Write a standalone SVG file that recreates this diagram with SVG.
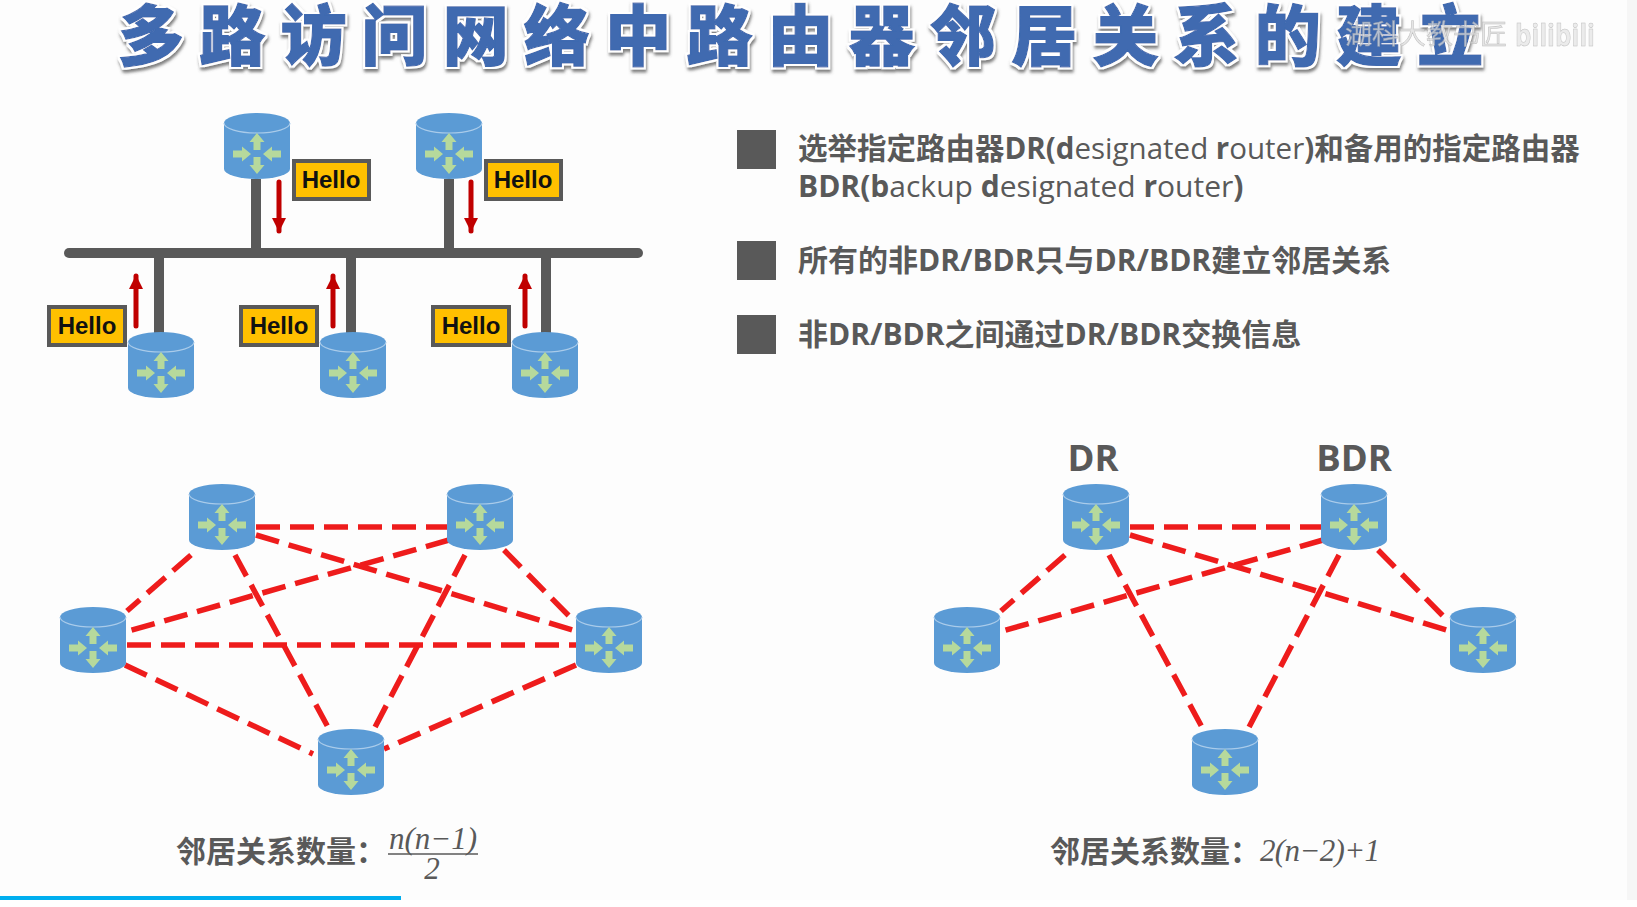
<svg xmlns="http://www.w3.org/2000/svg" width="1637" height="907" viewBox="0 0 1637 907">
<style>
.sans{font-family:"Open Sans","Noto Sans CJK SC",sans-serif;fill:#595959}
.title{font-family:"Noto Sans CJK SC",sans-serif;font-weight:900;font-size:66px;letter-spacing:15.2px;fill:#3f6ab0;stroke:#3f6ab0;stroke-width:1.2px}
.item{font-size:30px;font-weight:700}
.item .r{font-weight:400}
.hello-box{fill:#ffc000;stroke:#595959;stroke-width:4}
.hello{font-family:"Liberation Sans",sans-serif;font-size:24px;font-weight:700;fill:#111;text-anchor:middle}
.bus{stroke:#595959;stroke-width:10;fill:none}
.flow{stroke:#c00000;stroke-width:5;stroke-linecap:round;fill:none}
.link{stroke:#ee1c1c;stroke-width:5.5;stroke-dasharray:24 10;fill:none}
.math{font-family:"Liberation Serif",serif;font-style:italic;font-size:31px;fill:#595959}
.count{font-size:30px;font-weight:700}
.role{font-size:36.5px;font-weight:700;text-anchor:middle}
.bullet{fill:#595959}
</style>
<defs>
<marker id="head" markerUnits="userSpaceOnUse" markerWidth="15" markerHeight="14" refX="13" refY="7" orient="auto">
<path d="M0 0L14 7L0 14Z" fill="#c00000"/>
</marker>
<!-- white halo and soft grey shadow behind the heading -->
<filter id="lift" x="-3%" y="-20%" width="106%" height="150%">
<feMorphology in="SourceAlpha" operator="dilate" radius="2.4" result="fat"/>
<feFlood flood-color="#fff"/>
<feComposite in2="fat" operator="in" result="halo"/>
<feGaussianBlur in="fat" stdDeviation="1.4" result="soft"/>
<feOffset in="soft" dx="1" dy="3" result="moved"/>
<feFlood flood-color="#555" flood-opacity=".75"/>
<feComposite in2="moved" operator="in" result="shadow"/>
<feMerge>
<feMergeNode in="shadow"/>
<feMergeNode in="halo"/>
<feMergeNode in="SourceGraphic"/>
</feMerge>
</filter>
<g id="router">
<path d="M0 10A33 10 0 0 1 66 10V56A33 10 0 0 1 0 56Z" fill="#5b9bd5"/>
<path d="M0 10A33 10 0 0 0 66 10" fill="none" stroke="#a9cbea" stroke-width="1.2"/>
<g fill="#b6d99c">
<path d="M33 20L40.500 29H36.500V37H29.500V29H25.500Z"/>
<path d="M33 61L40.500 52H36.500V44H29.500V52H25.500Z"/>
<path d="M27 41L18 33.500V37.500H9V44.500H18V48.500Z"/>
<path d="M39 41L48 33.500V37.500H57V44.500H48V48.500Z"/>
</g>
</g>
</defs>

<rect width="1637" height="907" fill="#fdfdfd"/>
<rect x="1627" width="10" height="907" fill="#f6f6f6"/>
<rect y="900" width="1637" height="7" fill="#fff"/>
<rect y="896" width="401" height="4" fill="#00aeef"/>

<text class="title" x="118" y="60" filter="url(#lift)">多路访问网络中路由器邻居关系的建立</text>
<g opacity=".75">
<text x="1345" y="44" font-family="'Noto Sans CJK SC',sans-serif" font-size="27" fill="#ddd" stroke="#aaa" stroke-width=".5">湖科大教书匠</text>
<text x="1515" y="46" font-family="'Open Sans',sans-serif" font-size="30" font-weight="700" fill="#e6e6e6" stroke="#aaa" stroke-width=".5" textLength="80" lengthAdjust="spacingAndGlyphs">bilibili</text>
</g>

<g id="connectors">
<g id="bus-lines">
<path class="bus" stroke-linecap="round" d="M69 253H638"/>
<path class="bus" d="M256 179V253M449 179V253M159 253V333M351 253V333M546 253V333"/>
</g>
<g id="hello-flows">
<path class="flow" marker-end="url(#head)" d="M279 182V231"/>
<path class="flow" marker-end="url(#head)" d="M471 182V231"/>
<path class="flow" marker-end="url(#head)" d="M136 326V276"/>
<path class="flow" marker-end="url(#head)" d="M333 326V276"/>
<path class="flow" marker-end="url(#head)" d="M525 326V276"/>
</g>
<g id="full-mesh">
<path class="link" d="M256 527H448"/>
<path class="link" d="M127 645H576"/>
<path class="link" d="M191 555L127 611"/>
<path class="link" d="M449 540L125 632"/>
<path class="link" d="M256 535L576 631"/>
<path class="link" d="M235 555L329 729"/>
<path class="link" d="M465 555L374 729"/>
<path class="link" d="M504 550L571 618"/>
<path class="link" d="M125 665L313 754"/>
<path class="link" d="M576 665L384 749"/>
</g>
<g id="dr-mesh" transform="translate(874 0)">
<path class="link" d="M256 527H448"/>
<path class="link" d="M191 555L127 611"/>
<path class="link" d="M449 540L125 632"/>
<path class="link" d="M256 535L576 631"/>
<path class="link" d="M235 555L329 729"/>
<path class="link" d="M465 555L374 729"/>
<path class="link" d="M504 550L571 618"/>
</g>
</g>

<g id="bus-router-1"><use href="#router" x="224" y="113"/></g>
<g id="bus-router-2"><use href="#router" x="416" y="113"/></g>
<g id="bus-router-3"><use href="#router" x="128" y="332"/></g>
<g id="bus-router-4"><use href="#router" x="320" y="332"/></g>
<g id="bus-router-5"><use href="#router" x="512" y="332"/></g>

<g id="hello-1"><rect class="hello-box" x="294" y="161" width="75" height="38"/><text class="hello" x="331" y="188">Hello</text></g>
<g id="hello-2"><rect class="hello-box" x="486" y="161" width="75" height="38"/><text class="hello" x="523" y="188">Hello</text></g>
<g id="hello-3"><rect class="hello-box" x="49" y="307" width="76" height="38"/><text class="hello" x="87" y="334">Hello</text></g>
<g id="hello-4"><rect class="hello-box" x="241" y="307" width="76" height="38"/><text class="hello" x="279" y="334">Hello</text></g>
<g id="hello-5"><rect class="hello-box" x="433" y="307" width="76" height="38"/><text class="hello" x="471" y="334">Hello</text></g>

<g id="mesh-a"><use href="#router" x="189" y="484"/></g>
<g id="mesh-b"><use href="#router" x="447" y="484"/></g>
<g id="mesh-c"><use href="#router" x="60" y="607"/></g>
<g id="mesh-d"><use href="#router" x="576" y="607"/></g>
<g id="mesh-e"><use href="#router" x="318" y="729"/></g>

<g id="dr-router"><use href="#router" x="1063" y="484"/><text class="sans role" x="1093" y="471">DR</text></g>
<g id="bdr-router"><use href="#router" x="1321" y="484"/><text class="sans role" x="1354" y="471">BDR</text></g>
<g id="other-c"><use href="#router" x="934" y="607"/></g>
<g id="other-d"><use href="#router" x="1450" y="607"/></g>
<g id="other-e"><use href="#router" x="1192" y="729"/></g>

<g id="bullets">
<rect class="bullet" x="737" y="130" width="39" height="39"/>
<rect class="bullet" x="737" y="241" width="39" height="39"/>
<rect class="bullet" x="737" y="315" width="39" height="39"/>
<text class="sans item" x="798" y="159" style="font-size:29.500px">选举指定路由器DR(d<tspan class="r">esignated </tspan>r<tspan class="r">outer</tspan>)和备用的指定路由器</text>
<text class="sans item" x="798" y="197">BDR(b<tspan class="r">ackup </tspan>d<tspan class="r">esignated </tspan>r<tspan class="r">outer</tspan>)</text>
<text class="sans item" x="798" y="271">所有的非DR/BDR只与DR/BDR建立邻居关系</text>
<text class="sans item" x="798" y="345">非DR/BDR之间通过DR/BDR交换信息</text>
</g>

<g id="count-full">
<text class="sans count" x="176" y="862">邻居关系数量：</text>
<text class="math" x="389" y="849">n(n−1)</text>
<path d="M388 854H478" stroke="#595959" stroke-width="1.5"/>
<text class="math" x="432" y="879" text-anchor="middle">2</text>
</g>
<g id="count-dr">
<text class="sans count" x="1050" y="862">邻居关系数量：</text>
<text class="math" x="1260" y="861" textLength="120">2(n−2)+1</text>
</g>
</svg>
